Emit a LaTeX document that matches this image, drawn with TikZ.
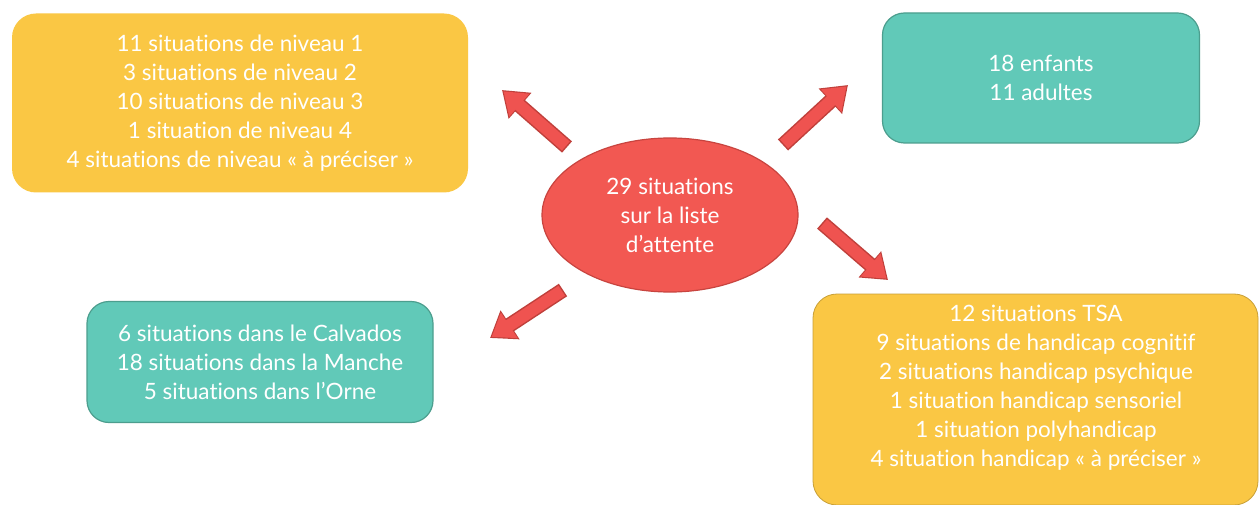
\documentclass[tikz,border=0pt]{standalone}
\usepackage{fontspec}
\setmainfont{Lato}[Ligatures=NoCommon]
\usetikzlibrary{shapes.geometric}
\usetikzlibrary{arrows.meta}

\definecolor{boxyellow}{HTML}{FAC744}
\definecolor{boxteal}{HTML}{61C9B8}
\definecolor{tealedge}{HTML}{4C9E8E}
\definecolor{ovalred}{HTML}{F25852}
\definecolor{ovaledge}{HTML}{C8443F}
\definecolor{arrowred}{HTML}{EF5350}
\definecolor{arrowdark}{HTML}{C0403B}

\tikzset{
  boxtext/.style={text=white, align=center, font=\fontsize{22.5}{29}\selectfont},
  yellowbox/.style={boxtext, fill=boxyellow, rounded corners=24},
  tealbox/.style={boxtext, fill=boxteal, draw=tealedge, line width=1.2, rounded corners=22},
  arrowback/.style={line width=15, draw=arrowdark, -{Triangle[length=24pt,width=33pt]}},
  arrowfront/.style={line width=12, draw=arrowred, shorten <=1.5pt, shorten >=2pt,
    -{Triangle[length=21pt,width=29pt]}}
}

\begin{document}
\begin{tikzpicture}[x=1pt,y=-1pt]
  \useasboundingbox[fill=white] (0,0) rectangle (1260,505);

  \node[ellipse, fill=ovalred, draw=ovaledge, line width=1.2, boxtext,
    minimum width=256, minimum height=154] (waitlist) at (670,215)
    {29 situations\\sur la liste\\d'attente};

  \node[yellowbox, minimum width=456, minimum height=179] (levels) at (240,103)
    {11 situations de niveau 1\\3 situations de niveau 2\\10 situations de niveau 3\\
     1 situation de niveau 4\\4 situations de niveau « à préciser »};

  \node[tealbox, minimum width=317, minimum height=130] (ages) at (1041,78)
    {18 enfants\\11 adultes};

  \node[tealbox, minimum width=346, minimum height=121] (depts) at (260,362)
    {6 situations dans le Calvados\\18 situations dans la Manche\\5 situations dans l'Orne};

  \node[yellowbox, draw=boxyellow!80!black, line width=0.8, minimum width=445,
    minimum height=211] (kindsbox) at (1035.5,399.5) {};
  \node[boxtext] (kinds) at (1036,388)
    {12 situations TSA\\9 situations de handicap cognitif\\2 situations handicap psychique\\
     1 situation handicap sensoriel\\1 situation polyhandicap\\4 situation handicap « à préciser »};

  % arrows out of the oval
  \coordinate (tltail) at (567,147);
  \coordinate (tltip) at (502,90);
  \coordinate (trtail) at (783,145);
  \coordinate (trtip) at (848,85);
  \coordinate (brtail) at (822,223);
  \coordinate (brtip) at (888,280);
  \coordinate (bltail) at (563,290);
  \coordinate (bltip) at (490,338);

  \foreach \a in {tl,tr,br,bl} {
    \draw[arrowback] (\a tail) -- (\a tip);
    \draw[arrowfront] (\a tail) -- (\a tip);
  }
\end{tikzpicture}
\end{document}
